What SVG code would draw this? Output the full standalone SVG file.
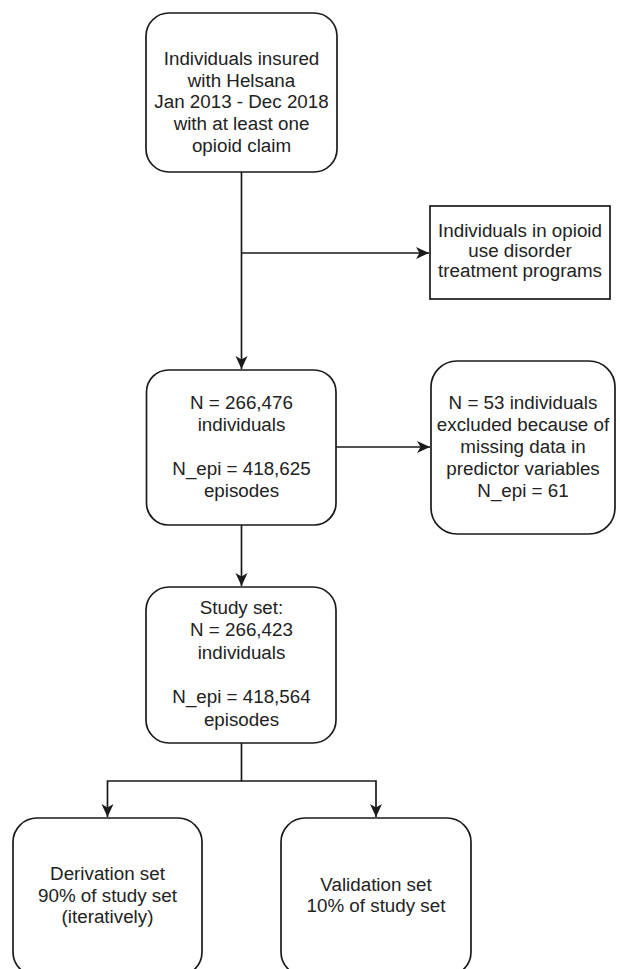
<svg xmlns="http://www.w3.org/2000/svg" width="620" height="969" viewBox="0 0 620 969">
<style>
  .box { fill: #ffffff; stroke: #1a1a1a; stroke-width: 1.7; }
  .edge { fill: none; stroke: #1a1a1a; stroke-width: 1.7; }
  .t { font-family: "Liberation Sans", Arial, sans-serif; font-size: 18.8px; fill: #222222; text-anchor: middle; }
</style>
<defs>
  <marker id="arr" markerWidth="14" markerHeight="14" viewBox="0 0 14 14" refX="13" refY="7" orient="auto" markerUnits="userSpaceOnUse">
    <path d="M0,1 L13,7 L0,13 L3.5,7 Z" fill="#1a1a1a"/>
  </marker>
</defs>
<rect width="620" height="969" fill="#ffffff"/>

<g id="connectors">
  <path class="edge" d="M241.5,172 L241.5,369" marker-end="url(#arr)"/>
  <path class="edge" d="M241.5,253 L429,253" marker-end="url(#arr)"/>
  <path class="edge" d="M336,447 L430,447" marker-end="url(#arr)"/>
  <path class="edge" d="M241.5,525 L241.5,586" marker-end="url(#arr)"/>
  <path class="edge" d="M241.5,743 L241.5,781 L107.5,781 L107.5,817" marker-end="url(#arr)"/>
  <path class="edge" d="M241.5,781 L376,781 L376,817" marker-end="url(#arr)"/>
</g>

<g id="n1">
  <rect class="box" x="146" y="13" width="191" height="159" rx="23" ry="23"/>
  <text class="t" x="241.5" y="65">Individuals insured</text>
  <text class="t" x="241.5" y="86.7">with Helsana</text>
  <text class="t" x="241.5" y="108.4">Jan 2013 - Dec 2018</text>
  <text class="t" x="241.5" y="130.1">with at least one</text>
  <text class="t" x="241.5" y="151.8">opioid claim</text>
</g>

<g id="n2">
  <rect class="box" x="430" y="206" width="180" height="93"/>
  <text class="t" x="520" y="237">Individuals in opioid</text>
  <text class="t" x="520" y="257">use disorder</text>
  <text class="t" x="520" y="277">treatment programs</text>
</g>

<g id="n3">
  <rect class="box" x="146.5" y="370" width="189.5" height="155" rx="22" ry="22"/>
  <text class="t" x="241.5" y="409">N = 266,476</text>
  <text class="t" x="241.5" y="431">individuals</text>
  <text class="t" x="241.5" y="475">N_epi = 418,625</text>
  <text class="t" x="241.5" y="497">episodes</text>
</g>

<g id="n4">
  <rect class="box" x="431" y="361" width="184" height="173" rx="26" ry="26"/>
  <text class="t" x="523" y="409">N = 53 individuals</text>
  <text class="t" x="523" y="431">excluded because of</text>
  <text class="t" x="523" y="453">missing data in</text>
  <text class="t" x="523" y="475">predictor variables</text>
  <text class="t" x="523" y="497">N_epi = 61</text>
</g>

<g id="n5">
  <rect class="box" x="146" y="587" width="190" height="156" rx="23" ry="23"/>
  <text class="t" x="241.5" y="614">Study set:</text>
  <text class="t" x="241.5" y="636.3">N = 266,423</text>
  <text class="t" x="241.5" y="658.6">individuals</text>
  <text class="t" x="241.5" y="703.2">N_epi = 418,564</text>
  <text class="t" x="241.5" y="725.5">episodes</text>
</g>

<g id="n6">
  <rect class="box" x="13" y="818" width="189" height="158" rx="24" ry="24"/>
  <text class="t" x="107.5" y="880">Derivation set</text>
  <text class="t" x="107.5" y="901.7">90% of study set</text>
  <text class="t" x="107.5" y="923.4">(iteratively)</text>
</g>

<g id="n7">
  <rect class="box" x="281" y="818" width="190" height="158" rx="24" ry="24"/>
  <text class="t" x="376" y="890.7">Validation set</text>
  <text class="t" x="376" y="912.4">10% of study set</text>
</g>
</svg>
